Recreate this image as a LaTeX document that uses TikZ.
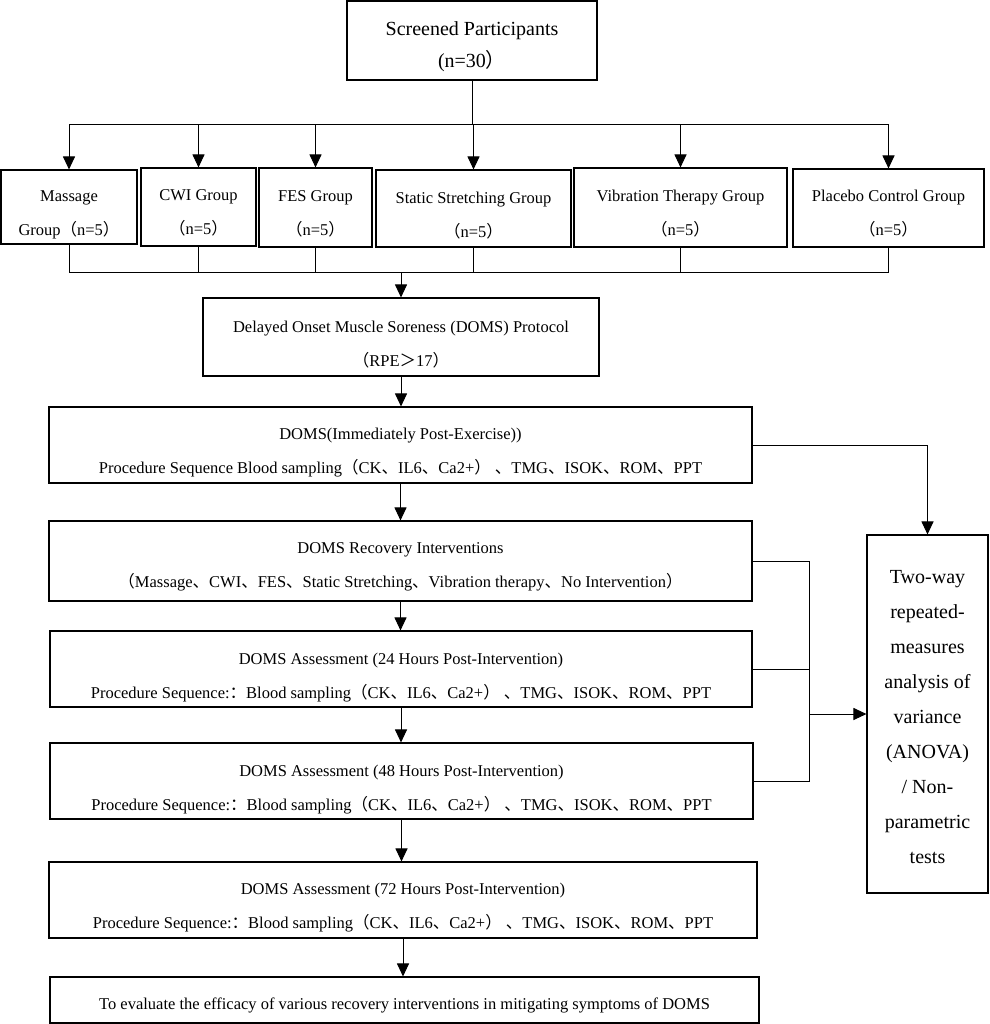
\documentclass[tikz,border=0pt]{standalone}
\usepackage{fontspec}
\setmainfont{Liberation Serif}
\newfontfamily\cjkf{Noto Sans CJK SC}
\usetikzlibrary{arrows.meta}
\newcommand{\mylp}{{\cjkf （}}
\newcommand{\myrp}{{\cjkf ）}}
\newcommand{\mydn}{{\cjkf 、}}
\newcommand{\mygt}{{\cjkf ＞}}
\newcommand{\mycl}{{\cjkf ：}}
\tikzset{
  box/.style={draw, line width=1.1pt, inner sep=0pt},
  txt/.style={inner sep=0pt, align=center, font=\fontsize{16.5}{34}\selectfont},
  ln/.style={line width=1pt},
  arr/.style={line width=1pt, -{Triangle[length=13pt,width=12pt]}},
}
\begin{document}
\begin{tikzpicture}[x=1pt,y=-1pt]
\useasboundingbox (0,0) rectangle (989,1024);
% boxes
\node[box, minimum width=250, minimum height=79] (top) at (472,40.5) {};
\node[box, minimum width=136, minimum height=74] (mas) at (69,207) {};
\node[box, minimum width=115, minimum height=78] (cwi) at (198.5,207) {};
\node[box, minimum width=113, minimum height=79] (fes) at (315.5,207.5) {};
\node[box, minimum width=195, minimum height=77] (ss) at (473.5,208.5) {};
\node[box, minimum width=213, minimum height=79] (vib) at (680.5,207.5) {};
\node[box, minimum width=191, minimum height=78] (pla) at (888.5,208) {};
\node[box, minimum width=396, minimum height=78] (proto) at (401,337) {};
\node[box, minimum width=703, minimum height=76] (imm) at (400.5,445) {};
\node[box, minimum width=703, minimum height=80] (rec) at (400.5,561) {};
\node[box, minimum width=702, minimum height=76] (h24) at (401,669) {};
\node[box, minimum width=703, minimum height=76] (h48) at (401.5,781) {};
\node[box, minimum width=708, minimum height=76] (h72) at (403,900) {};
\node[box, minimum width=709, minimum height=46] (fin) at (404.5,1000) {};
\node[box, minimum width=121, minimum height=358] (anova) at (927.5,714) {};
% texts
\node[txt, font=\fontsize{20}{32}\selectfont] (topt) at ([yshift=-6pt]top.center) {Screened Participants\\(n=30\myrp};
\node[txt] (mast) at ([yshift=-8pt]mas.center) {Massage\\Group\mylp n=5\myrp};
\node[txt] (cwit) at ([yshift=-6pt]cwi.center) {CWI Group\\\mylp n=5\myrp};
\node[txt] (fest) at ([yshift=-6pt]fes.center) {FES Group\\\mylp n=5\myrp};
\node[txt] (sst) at ([yshift=-7pt]ss.center) {Static Stretching Group\\\mylp n=5\myrp};
\node[txt] (vibt) at ([yshift=-6pt]vib.center) {Vibration Therapy Group\\\mylp n=5\myrp};
\node[txt] (plat) at ([yshift=-6pt]pla.center) {Placebo Control Group\\\mylp n=5\myrp};
\node[txt] (protot) at ([yshift=-8pt]proto.center) {Delayed Onset Muscle Soreness (DOMS) Protocol\\\mylp RPE\mygt 17\myrp};
\node[txt] (immt) at ([yshift=-8pt]imm.center) {DOMS(Immediately Post-Exercise))\\Procedure Sequence Blood sampling\mylp CK\mydn IL6\mydn Ca2+\myrp\ \mydn TMG\mydn ISOK\mydn ROM\mydn PPT};
\node[txt] (rect) at ([yshift=-6pt]rec.center) {DOMS Recovery Interventions\\\mylp Massage\mydn CWI\mydn FES\mydn Static Stretching\mydn Vibration therapy\mydn No Intervention\myrp};
\node[txt] (h24t) at ([yshift=-9pt]h24.center) {DOMS Assessment (24 Hours Post-Intervention)\\Procedure Sequence:\mycl Blood sampling\mylp CK\mydn IL6\mydn Ca2+\myrp\ \mydn TMG\mydn ISOK\mydn ROM\mydn PPT};
\node[txt] (h48t) at ([yshift=-9pt]h48.center) {DOMS Assessment (48 Hours Post-Intervention)\\Procedure Sequence:\mycl Blood sampling\mylp CK\mydn IL6\mydn Ca2+\myrp\ \mydn TMG\mydn ISOK\mydn ROM\mydn PPT};
\node[txt] (h72t) at ([yshift=-8pt]h72.center) {DOMS Assessment (72 Hours Post-Intervention)\\Procedure Sequence:\mycl Blood sampling\mylp CK\mydn IL6\mydn Ca2+\myrp\ \mydn TMG\mydn ISOK\mydn ROM\mydn PPT};
\node[txt] (fint) at ([yshift=-5pt]fin.center) {To evaluate the efficacy of various recovery interventions in mitigating symptoms of DOMS};
\node[txt, font=\fontsize{20}{35}\selectfont] (anovat) at ([yshift=-3pt]anova.center) {Two-way\\repeated-\\measures\\analysis of\\variance\\(ANOVA)\\/ Non-\\parametric\\tests};
% top split
\path (top.south) ++(0,44) coordinate (bus);
\draw[ln] (top.south) -- (bus);
\foreach \n in {mas,cwi,fes,ss,vib,pla} \draw[arr] (bus) -| (\n.north);
% merge
\coordinate (mg) at (401,272);
\foreach \n in {mas,cwi,fes,ss,vib,pla} \draw[ln] (\n.south) |- (mg);
\draw[arr] (mg) -- (proto.north);
% chain
\draw[arr] (proto.south) -- (proto.south |- imm.north);
\draw[arr] (imm.south) -- (imm.south |- rec.north);
\draw[arr] (rec.south) -- (rec.south |- h24.north);
\draw[arr] (h24.south) -- (h24.south |- h48.north);
\draw[arr] (h48.south) -- (h48.south |- h72.north);
\draw[arr] (h72.south) -- (h72.south |- fin.north);
% to anova
\draw[arr] (imm.east) -| (anova.north);
\coordinate (jn) at (809,714);
\draw[ln] (rec.east) -| (jn);
\draw[ln] (h48.east) -| (jn);
\draw[ln] (h24.east) -- (h24.east -| jn);
\draw[arr] (jn) -- (anova.west);
\end{tikzpicture}
\end{document}
